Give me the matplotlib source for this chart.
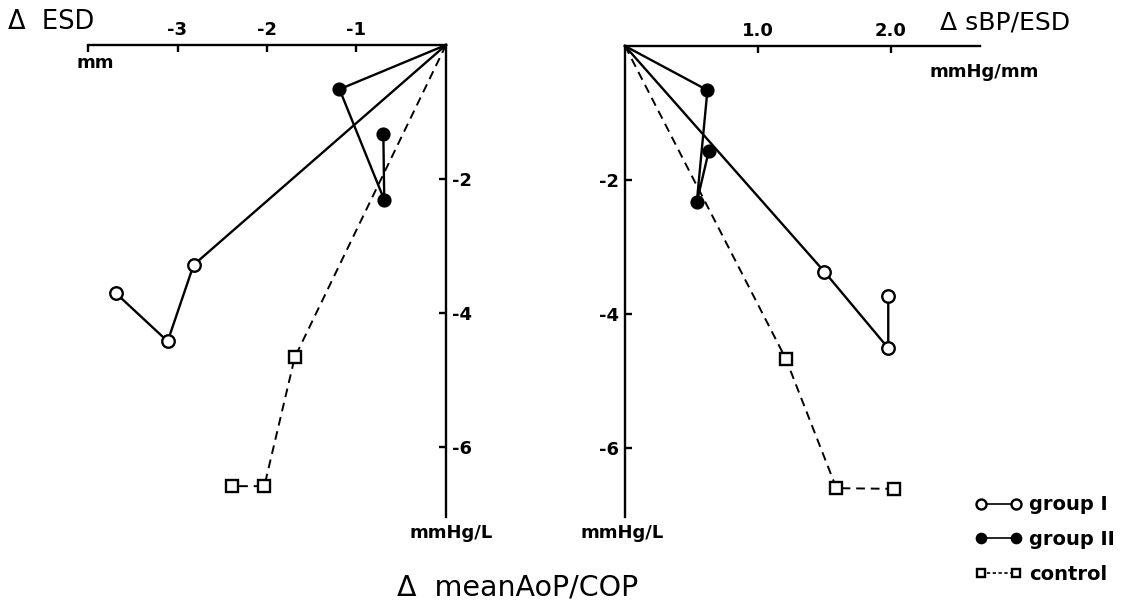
import matplotlib
matplotlib.use('Agg')
import matplotlib.pyplot as plt
from matplotlib.lines import Line2D

plt.rcParams['font.family'] = ['DejaVu Sans']

# left panel: delta ESD (mm) vs delta meanAoP/COP (mmHg/L)
esd_g1 = [-2.82, -3.11, -3.69]
aop_g1_l = [-3.28, -4.42, -3.70]
esd_g2 = [-1.19, -0.69, -0.70]
aop_g2_l = [-0.66, -2.31, -1.33]
esd_ctl = [-1.69, -2.03, -2.39]
aop_ctl_l = [-4.66, -6.58, -6.58]

# right panel: delta sBP/ESD (mmHg/mm) vs delta meanAoP/COP
sbp_g1 = [1.50, 1.98, 1.98]
aop_g1_r = [-3.37, -4.51, -3.73]
sbp_g2 = [0.62, 0.54, 0.63]
aop_g2_r = [-0.66, -2.33, -1.57]
sbp_ctl = [1.21, 1.59, 2.02]
aop_ctl_r = [-4.67, -6.60, -6.61]

left_xticks = [-4, -3, -2, -1]
left_xlabels = ['', '-3', '-2', '-1']
right_xticks = [1.0, 2.0]
right_xlabels = ['1.0', '2.0']
yticks = [-2, -4, -6]
ylabels = ['-2', '-4', '-6']

W, H = 1126, 603


def px(x, y):
    return x / W, 1 - y / H


fig = plt.figure(figsize=(W / 100, H / 100), dpi=100)
ax1 = fig.add_axes([88 / W, 1 - 517 / H, 358 / W, 472 / H])
ax2 = fig.add_axes([625 / W, 1 - 517 / H, 355 / W, 471 / H])

styles = {
    'g1': dict(color='black', lw=1.7, ls='-', marker='o', ms=9, mfc='white', mec='black', mew=1.7),
    'g2': dict(color='black', lw=1.7, ls='-', marker='o', ms=9, mfc='black', mec='black', mew=1.2),
    'ctl': dict(color='black', lw=1.4, ls=(0, (4.5, 3)), marker='s', ms=8, mfc='white', mec='black', mew=1.7),
}


def draw(ax, xs, ys, key):
    ax.plot([0] + xs, [0] + ys, markevery=slice(1, None), clip_on=False, zorder=3, **styles[key])


draw(ax1, esd_g1, aop_g1_l, 'g1')
draw(ax1, esd_g2, aop_g2_l, 'g2')
draw(ax1, esd_ctl, aop_ctl_l, 'ctl')
draw(ax2, sbp_g1, aop_g1_r, 'g1')
draw(ax2, sbp_g2, aop_g2_r, 'g2')
draw(ax2, sbp_ctl, aop_ctl_r, 'ctl')

# left axes: spines on top and right
ax1.set_xlim(-3.98, 0)
ax1.set_ylim(-7.04, 0)
ax1.spines['left'].set_visible(False)
ax1.spines['bottom'].set_visible(False)
ax1.xaxis.tick_top()
ax1.yaxis.tick_right()
ax1.set_xticks(left_xticks)
ax1.set_xticklabels(left_xlabels)
ax1.set_yticks(yticks)
ax1.set_yticklabels(ylabels)

# right axes: spines on top and left
ax2.set_xlim(0, 2.67)
ax2.set_ylim(-7.03, 0)
ax2.spines['right'].set_visible(False)
ax2.spines['bottom'].set_visible(False)
ax2.xaxis.tick_top()
ax2.set_xticks(right_xticks)
ax2.set_xticklabels(right_xlabels)
ax2.set_yticks(yticks)
ax2.set_yticklabels(ylabels)

for ax in (ax1, ax2):
    ax.patch.set_visible(False)
    for s in ax.spines.values():
        s.set_linewidth(1.7)
    ax.tick_params(direction='in', length=5, width=1.7, labelsize=13, pad=4)
    for t in ax.get_xticklabels() + ax.get_yticklabels():
        t.set_fontweight('bold')

# axis titles / units
fig.text(*px(8, 22), 'Δ  ESD', fontsize=18.5, ha='left', va='center')
fig.text(*px(95, 63), 'mm', fontsize=13, fontweight='bold', ha='center', va='center')
fig.text(*px(940, 22), 'Δ sBP/ESD', fontsize=18, ha='left', va='center')
fig.text(*px(984, 72), 'mmHg/mm', fontsize=13, fontweight='bold', ha='center', va='center')
fig.text(*px(451, 533), 'mmHg/L', fontsize=13, fontweight='bold', ha='center', va='center')
fig.text(*px(622, 533), 'mmHg/L', fontsize=13, fontweight='bold', ha='center', va='center')
fig.text(*px(397, 587), 'Δ  meanAoP/COP', fontsize=20.5, ha='left', va='center')

handles = [
    Line2D([], [], **styles['g1']),
    Line2D([], [], **styles['g2']),
    Line2D([], [], **styles['ctl']),
]
for h in handles:
    h.set_markersize(h.get_markersize() * 0.8)
    h.set_linewidth(1.2)
h = handles[2]
h.set_linestyle((0, (2, 1.5)))
fig.legend(handles, ['group I', 'group II', 'control'], loc='upper left',
           bbox_to_anchor=px(958, 478), frameon=False, numpoints=2,
           handlelength=2.4, handletextpad=0.35, labelspacing=0.8,
           prop={'weight': 'bold', 'size': 14})

fig.savefig('out.png', dpi=100)
